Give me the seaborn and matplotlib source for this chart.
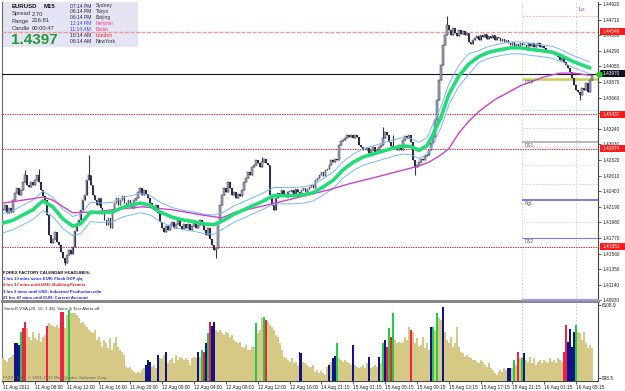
import matplotlib
matplotlib.use("Agg")
import matplotlib.pyplot as plt
import matplotlib.transforms as mtrans
from matplotlib.patches import Rectangle
import numpy as np
import pandas as pd
import seaborn as sns

W, H = 625, 391

# M15 closes, pips above 1.4000
closes = [
    215, 221, 210, 218, 212, 228, 238, 244, 235, 242, 252, 262, 248, 246, 253, 248,
    255, 262, 252, 242, 234, 228, 208, 181, 170, 176, 185, 172, 168, 158, 150, 144,
    154, 161, 156, 165, 186, 196, 201, 215, 228, 235, 255, 262, 248, 235, 228, 221,
    231, 218, 212, 201, 194, 204, 191, 215, 224, 231, 221, 228, 233, 224, 221, 228,
    224, 218, 228, 231, 239, 244, 235, 242, 236, 231, 224, 218, 215, 221, 211, 199,
    190, 185, 193, 188, 194, 199, 191, 196, 201, 193, 189, 196, 191, 196, 188, 193,
    199, 191, 194, 201, 194, 188, 181, 191, 176, 168, 161, 164, 197, 221, 235, 244,
    239, 252, 244, 235, 239, 231, 236, 234, 242, 252, 258, 266, 262, 272, 275, 282,
    278, 273, 279, 284, 278, 275, 235, 221, 215, 231, 238, 234, 242, 236, 232, 239,
    239, 242, 236, 243, 239, 235, 242, 244, 239, 243, 246, 249, 244, 255, 258, 262,
    266, 260, 268, 270, 275, 282, 279, 284, 282, 302, 307, 309, 312, 315, 313, 316,
    312, 315, 313, 302, 299, 296, 295, 298, 292, 296, 299, 293, 296, 300, 302, 312,
    320, 316, 306, 301, 299, 299, 295, 302, 296, 309, 314, 312, 316, 306, 282, 272,
    275, 279, 284, 282, 287, 289, 296, 305, 313, 336, 363, 390, 410, 437, 450, 464,
    457, 450, 460, 453, 449, 457, 451, 455, 450, 453, 441, 438, 444, 446, 449, 444,
    450, 448, 452, 445, 449, 446, 450, 444, 448, 446, 442, 445, 441, 444, 440, 437,
    441, 436, 438, 434, 440, 437, 437, 433, 439, 436, 440, 434, 437, 439, 434, 436,
    433, 430, 427, 429, 426, 427, 423, 421, 417, 419, 414, 410, 406, 400, 392, 383,
    376, 374, 370, 379, 376, 385, 374, 390, 397,
]
spike_hi = {11: 268, 18: 270, 43: 289, 130: 286, 191: 326, 196: 316, 223: 476}
spike_lo = {31: 141, 107: 150, 207: 262, 290: 363}

# moving averages (pips above 1.4000) sampled at bar indices
green_idx = [0, 5, 10, 15, 20, 25, 30, 35, 39, 44, 49, 55, 61, 69, 74, 79, 85, 91, 96, 101,
             106, 111, 116, 121, 126, 131, 136, 141, 146, 151, 156, 161, 166, 171, 176, 181, 186, 191, 196, 201,
             205, 209, 213, 216, 220, 224, 229, 234, 239, 244, 249, 255, 260, 265, 271, 276, 281, 286, 291, 295]
green_ma = [197, 201, 208, 215, 227, 219, 203, 193, 196, 212, 211, 212, 219, 224, 221, 212, 205, 201, 199, 196,
            195, 201, 209, 215, 221, 227, 234, 234, 234, 235, 238, 246, 255, 269, 279, 286, 290, 294, 298, 301,
            300, 295, 301, 316, 339, 370, 395, 411, 421, 427, 430, 433, 433, 431, 429, 427, 422, 415, 410, 406]
band_up = [210, 214, 221, 228, 240, 232, 216, 206, 209, 225, 224, 225, 232, 237, 234, 225, 218, 214, 212, 209,
           208, 212, 220, 226, 232, 238, 245, 245, 245, 246, 249, 257, 266, 280, 290, 297, 301, 305, 309, 312,
           311, 306, 312, 330, 353, 384, 409, 425, 429, 435, 438, 441, 441, 439, 437, 435, 430, 423, 418, 414]
band_dn = [184, 188, 195, 202, 214, 206, 190, 180, 183, 199, 198, 199, 206, 211, 208, 199, 192, 188, 186, 183,
           182, 190, 198, 204, 210, 216, 223, 223, 223, 224, 227, 235, 244, 258, 268, 275, 279, 283, 287, 290,
           289, 284, 290, 302, 325, 356, 381, 397, 413, 419, 422, 425, 425, 423, 421, 419, 414, 407, 402, 398]
mag_idx = [0, 10, 20, 25, 35, 45, 55, 70, 85, 100, 110, 116, 132, 149, 164, 174, 189, 199, 209, 214,
           219, 224, 229, 234, 239, 247, 260, 272, 280, 287, 295]
mag_ma = [224, 228, 232, 228, 211, 212, 215, 219, 215, 208, 204, 211, 221, 232, 242, 250, 260, 267, 274, 279,
          287, 297, 318, 334, 347, 363, 382, 394, 399, 399, 396]

# SonicR VSA volume per bar
volume = [
    2400, 2260, 2120, 2400, 2470, 2610, 3450, 3450, 3310, 4220,
    4500, 4920, 4500, 3870, 3660, 4220, 3800, 3660, 4150, 3520,
    3870, 4010, 4640, 4850, 4710, 4640, 4570, 4710, 4500, 5620,
    5620, 4500, 5410, 5760, 5550, 5550, 5550, 5410, 5200, 4850,
    4920, 4710, 4570, 4360, 4220, 4150, 4360, 3660, 3870, 3520,
    3170, 3660, 3450, 3100, 3800, 2960, 3450, 3870, 3170, 2960,
    2820, 2610, 1770, 1700, 1770, 1560, 1420, 1350, 1420, 1350,
    1560, 1700, 1910, 2260, 2120, 1770, 1910, 1700, 2610, 2400,
    2330, 2610, 2820, 2050, 2260, 2400, 2050, 2610, 2260, 2470,
    2400, 2260, 2400, 2260, 1910, 2400, 2470, 2400, 2820, 2470,
    2960, 2820, 3450, 4150, 4920, 4640, 4920, 4360, 4220, 4360,
    4150, 4010, 4220, 4150, 3870, 4010, 3660, 3520, 3450, 3520,
    3170, 3100, 3310, 2960, 2960, 3170, 3170, 4850, 4150, 4360,
    5200, 5270, 5060, 4920, 4710, 4570, 4360, 4010, 3870, 3450,
    2960, 2470, 2400, 2260, 2120, 2400, 2050, 2120, 1910, 2820,
    2750, 2120, 2050, 1910, 1770, 1770, 1910, 1420, 1560, 1350,
    1490, 1350, 1210, 1770, 1910, 2120, 2400, 2540, 3450, 2400,
    2260, 2120, 2260, 2120, 2050, 1910, 3310, 1910, 1770, 1700,
    1770, 1910, 1700, 2050, 2470, 1700, 1770, 1910, 1770, 2470,
    2050, 3450, 3660, 3170, 4500, 3870, 5550, 3660, 3450, 3520,
    3450, 3520, 3870, 3660, 4570, 4360, 4220, 3450, 3800, 3170,
    3310, 3870, 3100, 3450, 2960, 4570, 4570, 4360, 5550, 5200,
    5060, 5970, 4220, 3660, 3450, 3870, 3170, 3450, 4570, 3170,
    2820, 2750, 2470, 2610, 2470, 2400, 2260, 2260, 2120, 2050,
    2260, 2120, 1910, 1770, 2050, 1700, 1560, 1350, 1210, 1420,
    1560, 1420, 1700, 1560, 1700, 1700, 1700, 2260, 1910, 2820,
    2400, 2400, 2750, 2260, 2120, 2470, 2050, 2400, 1910, 2120,
    2260, 2050, 2260, 2120, 2050, 2400, 2120, 2260, 2050, 2400,
    2260, 2120, 2820, 4710, 3520, 4430, 3170, 4220, 4710, 4220,
    4150, 3660, 4220, 3450, 3100, 3310, 3100,
]
vol_blue = [6, 7, 8, 72, 73, 74, 78, 82, 98, 102, 105, 106, 149, 150, 164, 166, 167, 176, 184,
            189, 192, 215, 221, 254, 255, 262, 284, 285, 286, 287]
vol_green = [9, 33, 100, 103, 127, 131, 168, 191, 194, 196, 216, 218, 257, 261, 288]
vol_red = [10, 11, 22, 29, 30, 101, 104, 132, 193, 195, 205, 259, 282, 283]

price_ticks = ["1.44920", "1.44710", "1.44500", "1.44290", "1.44080", "1.43870", "1.43660",
               "1.43450", "1.43240", "1.43030", "1.42820", "1.42610", "1.42400", "1.42190",
               "1.41980", "1.41770", "1.41560", "1.41350", "1.41140", "1.40930"]
time_labels = ["11 Aug 2011", "11 Aug 08:00", "11 Aug 12:00", "11 Aug 16:00", "11 Aug 20:00",
               "12 Aug 00:00", "12 Aug 04:00", "12 Aug 08:00", "12 Aug 12:00", "12 Aug 16:00",
               "14 Aug 21:15", "15 Aug 01:15", "15 Aug 05:15", "15 Aug 09:15", "15 Aug 13:15",
               "15 Aug 17:15", "15 Aug 21:15", "16 Aug 01:15", "16 Aug 05:15"]

# red alert levels and the bid line
alert_levels = [1.44548, 1.43437, 1.42974, 1.41651]
bid = 1.43978
# pivot levels drawn from the start of the current day
pivots = [("DPP", 1.4391), ("DS1", 1.4306), ("RgL", 1.4228), ("DS2", 1.4177)]
faint_levels = [1.4476, 1.4349, 1.4325, 1.4300, 1.4275, 1.4250, 1.4199]

sessions = [("07:14 PM", "Sydney"), ("06:14 PM", "Tokyo"), ("06:14 PM", "Beijing"),
            ("12:14 PM", "Helsinki"), ("11:14 AM", "Berlin"), ("10:14 AM", "London"),
            ("06:14 AM", "NewYork")]
headlines = ["FOREX FACTORY CALENDAR HEADLINES:",
             "1 hrs 13 mins since EUR: Flash GDP q/q",
             "2 hrs 17 mins until USD: Building Permits",
             "3 hrs 2 mins until USD: Industrial Production m/m",
             "21 hrs 47 mins until EUR: Current Account"]


def fx(x):
    return x / W


def fy(y):
    return 1 - y / H


def pr(v):
    return 1.4 + np.asarray(v, dtype=float) / 1e4


def main():
    sns.set_style("white")
    plt.rcParams['font.family'] = ['Liberation Sans', 'DejaVu Sans']

    fig = plt.figure(figsize=(W / 100, H / 100), dpi=100)
    ax = fig.add_axes([fx(2), fy(301), 596 / W, 299 / H])
    axv = fig.add_axes([fx(2), fy(381), 596 / W, 78 / H], sharex=ax)

    # --- candles ---
    c = pr(closes)
    o = np.r_[c[0], c[:-1]]
    hi = np.maximum(o, c)
    lo = np.minimum(o, c)
    for k, v in spike_hi.items():
        hi[k] = pr(v)
    for k, v in spike_lo.items():
        lo[k] = pr(v)
    idx = np.arange(len(c))
    ax.vlines(idx, lo, hi, color='#34344e', lw=0.8, zorder=4)
    up = c >= o
    hgt = np.maximum(np.abs(c - o), 0.00008)
    ax.bar(idx[up], hgt[up], bottom=o[up], width=0.85, color='#a8a8b8',
           edgecolor='#34344e', linewidth=0.35, zorder=5)
    ax.bar(idx[~up], hgt[~up], bottom=c[~up], width=0.85, color='#2c2c48',
           linewidth=0, zorder=5)

    # --- moving averages ---
    ma = pd.DataFrame({'bar': green_idx, 'mid': pr(green_ma),
                       'up': pr(band_up), 'dn': pr(band_dn)})
    sns.lineplot(data=ma, x='bar', y='up', ax=ax, color='#7ab8f5', lw=0.7, zorder=6)
    sns.lineplot(data=ma, x='bar', y='dn', ax=ax, color='#7ab8f5', lw=0.7, zorder=6)
    sns.lineplot(data=ma, x='bar', y='mid', ax=ax, color='#22dd77', lw=2.6, zorder=7)
    mg = pd.DataFrame({'bar': mag_idx, 'val': pr(mag_ma)})
    sns.lineplot(data=mg, x='bar', y='val', ax=ax, color='#d040d0', lw=1.0, zorder=6)

    # --- horizontal levels ---
    ax.axhline(alert_levels[0], color='#f29a9a', lw=1.0, ls=(0, (3, 1)), zorder=3)
    for lv in alert_levels[1:]:
        ax.axhline(lv, color='#e8283a', lw=0.7, ls=(0, (1.5, 1)), zorder=3)
    ax.axhline(bid, color='#151515', lw=0.8, zorder=3)

    day0 = 261
    for lv, col in zip(faint_levels, ['#f4c4c4', '#c8dcf4', '#f4d2e0', '#e2dcf4',
                                     '#f2e0e4', '#cfe2f8', '#e0e0f4']):
        ax.hlines(lv, day0, 299.5, color=col, lw=0.8, ls=(0, (2, 1)), zorder=2)
    piv_style = {"DPP": ('#cccc55', 1.8), "DS1": ('#b4b4cc', 1.4),
                 "RgL": ('#5a5ad8', 1.1), "DS2": ('#7a7aee', 0.8)}
    for name, lv in pivots:
        col, lw = piv_style[name]
        ax.hlines(lv, day0, 299.5, color=col, lw=lw, zorder=2)
        ax.text(day0 + 1, lv - 0.00012, name, fontsize=3.4, color='#5a5a72',
                va='top', ha='left', zorder=8)
    for xv in (day0, 288):
        ax.axvline(xv, color='#cfcfcf', lw=0.6, ls=(0, (2, 2)), zorder=1)
    ax.text(289, 1.4485, "Lo", fontsize=4.2, color='#9933cc', va='center', zorder=8)

    ax.set_xlim(-0.5, 299)
    ax.set_ylim(1.40922, 1.44947)
    ax.yaxis.tick_right()
    ax.set_yticks([float(t) for t in price_ticks])
    ax.set_yticklabels(price_ticks)
    ax.tick_params(axis='y', labelsize=3.4, length=2, width=0.5, pad=1,
                   colors='#222222', right=True)
    ax.tick_params(axis='x', bottom=False, labelbottom=False)
    ax.set_xlabel('')
    ax.set_ylabel('')
    ax.spines['top'].set_visible(False)
    ax.spines['left'].set_color('#666666')
    ax.spines['left'].set_linewidth(0.8)
    ax.spines['right'].set_color('#444444')
    ax.spines['right'].set_linewidth(0.8)
    ax.spines['bottom'].set_color('#8a8a8a')
    ax.spines['bottom'].set_linewidth(2.2)
    ax.hlines(1.4093, day0, 299.5, color='#9a9ae0', lw=1.6, zorder=9, clip_on=False)

    # price boxes on the right scale
    tr = mtrans.blended_transform_factory(ax.transAxes, ax.transData)
    half = 0.00047
    boxes = [(alert_levels[0], "1.44548", '#ff1a1a'), (alert_levels[1], "1.43437", '#ff1a1a'),
             (alert_levels[2], "1.42974", '#ff1a1a'), (alert_levels[3], "1.41651", '#ff1a1a'),
             (bid, "1.43970", '#0e0e20')]
    for lv, txt, col in boxes:
        ax.add_patch(Rectangle((1.004, lv - half), 0.043, 2 * half, transform=tr,
                               facecolor=col, edgecolor='none', clip_on=False, zorder=10))
        ax.text(1.008, lv, txt, transform=tr, fontsize=3.4, color='white',
                va='center', ha='left', zorder=11, clip_on=False)
    ax.plot([1.0025], [bid], transform=tr, marker='o', ms=3.6, color='#22cc22',
            clip_on=False, zorder=12)

    # --- info box ---
    ax.add_patch(Rectangle((fx(2), fy(47)), 136 / W, 45 / H, transform=fig.transFigure,
                           facecolor='#e4e4f4', edgecolor='none', zorder=1.5))
    fig.text(fx(12), fy(6), "EURUSD", fontsize=4.3, weight='bold', va='center', color='#111111')
    fig.text(fx(44), fy(6), "M15", fontsize=4.3, weight='bold', va='center', color='#111111')
    for y, a, b in [(14, "Spread", "2.70"), (21, "Range", "216.81"), (28, "Candle", "00:00:47")]:
        fig.text(fx(12), fy(y), a, fontsize=4.2, va='center', color='#333333')
        fig.text(fx(32), fy(y), b, fontsize=4.2, va='center', color='#333333')
    fig.text(fx(11), fy(40), "1.4397", fontsize=11, weight='bold', va='center', color='#1f9a3a')
    tcols = ['#22224a', '#22224a', '#22224a', '#3344ff', '#3344ff', '#22224a', '#22224a']
    ccols = ['#333333', '#333333', '#333333', '#ff3d8a', '#ff3d8a', '#ee2222', '#333333']
    for k, (t, city) in enumerate(sessions):
        yy = 6 + k * 5.9
        fig.text(fx(70), fy(yy), t, fontsize=3.6, va='center', color=tcols[k])
        fig.text(fx(96), fy(yy), city, fontsize=3.6, va='center', color=ccols[k])

    hcols = ['#111111', '#2222ee', '#ee1111', '#2222ee', '#2222ee']
    for k, line in enumerate(headlines):
        fig.text(fx(3), fy(273 + k * 6.2), line, fontsize=3.1, weight='bold',
                 va='center', color=hcols[k])

    # --- volume panel ---
    base = '#d6c986'
    vcol = [base] * len(volume)
    for k in vol_blue:
        vcol[k] = '#12128c'
    for k in vol_green:
        vcol[k] = '#22cc44'
    for k in vol_red:
        vcol[k] = '#ee2244'
    vbot = 788.5
    vi = np.arange(len(volume))
    vh = np.array(volume) - vbot
    axv.bar(vi, vh, bottom=vbot, width=1.0, color=vcol, linewidth=0,
            antialiased=False, zorder=3)
    axv.axvline(day0, color='#f0a8b8', lw=0.6, ls=(0, (2, 2)), zorder=1)
    axv.axvline(288, color='#c8c8c8', lw=0.6, ls=(0, (2, 2)), zorder=1)
    axv.set_ylim(vbot, 6248.9)
    axv.yaxis.tick_right()
    axv.set_yticks([998.5, 6108.9])
    axv.set_yticklabels(["998.5", "6108.9"])
    axv.tick_params(axis='y', labelsize=3.4, length=2, width=0.5, pad=1, colors='#222222', right=True)
    axv.set_xticks(np.arange(len(time_labels)) * 16)
    axv.set_xticklabels(time_labels, ha='left')
    axv.tick_params(axis='x', labelsize=3.4, length=2, width=0.5, pad=1, colors='#222222', bottom=True)
    axv.set_xlabel('')
    axv.set_ylabel('')
    axv.spines['top'].set_visible(False)
    for side, col in (('left', '#666666'), ('right', '#444444'), ('bottom', '#444444')):
        axv.spines[side].set_color(col)
        axv.spines[side].set_linewidth(0.8)
    fig.text(fx(4), fy(309), "SonicR VSA (20, 10, 1.38)  Voice & Text Alerts off.",
             fontsize=3.2, va='center', color='#333333')
    fig.text(fx(3), fy(378), "PUCR WIN, \u00a9 2001-2011 MetaQuotes Software Corp.",
             fontsize=3.2, va='center', color='#666666', zorder=5)

    fig.savefig("out.png", dpi=100)


if __name__ == "__main__":
    main()
